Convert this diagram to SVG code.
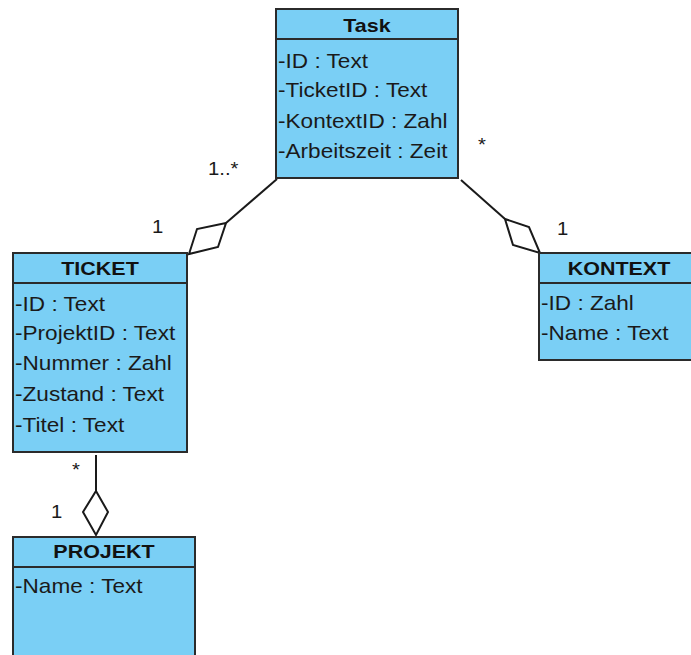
<svg xmlns="http://www.w3.org/2000/svg" width="691" height="655" viewBox="0 0 691 655">
  <style>
    .box { fill: #7acff5; stroke: #2b2b2b; stroke-width: 2; }
    .sep { stroke: #2b2b2b; stroke-width: 2; }
    .title { font-family: "Liberation Sans", Arial, sans-serif; font-size: 19px; font-weight: bold; fill: #111; text-anchor: middle; }
    .attr { font-family: "Liberation Sans", Arial, sans-serif; font-size: 20px; fill: #1a1a1a; }
    .link { fill: none; stroke: #1a1a1a; stroke-width: 2; }
    .agg { fill: #ffffff; stroke: #1a1a1a; stroke-width: 2; stroke-linejoin: miter; }
    .mult { font-family: "Liberation Sans", Arial, sans-serif; font-size: 18px; fill: #1a1a1a; }
  </style>
  <rect width="691" height="655" fill="#ffffff"/>

  <g id="connectors">
    <!-- Task to TICKET -->
    <line class="link" x1="277" y1="179" x2="226" y2="223"/>
    <polygon class="agg" points="226,223 197,229 189,254 218,247"/>
    <text class="mult" transform="translate(208,175) scale(1.13,1)">1..*</text>
    <text class="mult" transform="translate(152,233) scale(1.13,1)">1</text>
    <!-- Task to KONTEXT -->
    <line class="link" x1="461" y1="180" x2="505" y2="219"/>
    <polygon class="agg" points="505,219 529,227 540,253 513,245"/>
    <text class="mult" transform="translate(478,151) scale(1.13,1)">*</text>
    <text class="mult" transform="translate(557,235) scale(1.13,1)">1</text>
    <!-- TICKET to PROJEKT -->
    <line class="link" x1="96" y1="455" x2="96" y2="491"/>
    <polygon class="agg" points="96,491 108,512 96,535 83,512"/>
    <text class="mult" transform="translate(72,476) scale(1.13,1)">*</text>
    <text class="mult" transform="translate(51,518) scale(1.13,1)">1</text>
  </g>

  <g id="task">
    <rect class="box" x="276" y="9" width="182" height="169"/>
    <line class="sep" x1="276" y1="39" x2="458" y2="39"/>
    <text class="title" transform="translate(367,32) scale(1.13,1)">Task</text>
    <text class="attr" transform="translate(278,68) scale(1.13,1)">-ID : Text</text>
    <text class="attr" transform="translate(278,97) scale(1.13,1)">-TicketID : Text</text>
    <text class="attr" transform="translate(278,128) scale(1.13,1)">-KontextID : Zahl</text>
    <text class="attr" transform="translate(278,158) scale(1.13,1)">-Arbeitszeit : Zeit</text>
  </g>

  <g id="ticket">
    <rect class="box" x="13" y="253" width="174" height="199"/>
    <line class="sep" x1="13" y1="283" x2="187" y2="283"/>
    <text class="title" transform="translate(100,275) scale(1.13,1)">TICKET</text>
    <text class="attr" transform="translate(15,311) scale(1.13,1)">-ID : Text</text>
    <text class="attr" transform="translate(15,340) scale(1.13,1)">-ProjektID : Text</text>
    <text class="attr" transform="translate(15,370) scale(1.13,1)">-Nummer : Zahl</text>
    <text class="attr" transform="translate(15,401) scale(1.13,1)">-Zustand : Text</text>
    <text class="attr" transform="translate(15,432) scale(1.13,1)">-Titel : Text</text>
  </g>

  <g id="kontext">
    <rect class="box" x="539" y="253" width="170" height="107"/>
    <line class="sep" x1="539" y1="283" x2="709" y2="283"/>
    <text class="title" transform="translate(619,275) scale(1.13,1)">KONTEXT</text>
    <text class="attr" transform="translate(541,310) scale(1.13,1)">-ID : Zahl</text>
    <text class="attr" transform="translate(541,340) scale(1.13,1)">-Name : Text</text>
  </g>

  <g id="projekt">
    <rect class="box" x="13" y="537" width="182" height="130"/>
    <line class="sep" x1="13" y1="567" x2="195" y2="567"/>
    <text class="title" transform="translate(104,558) scale(1.13,1)">PROJEKT</text>
    <text class="attr" transform="translate(15,593) scale(1.13,1)">-Name : Text</text>
  </g>
</svg>
